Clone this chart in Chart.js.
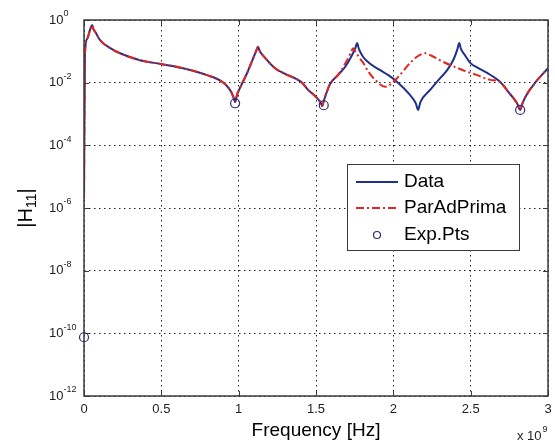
<!DOCTYPE html>
<html lang="en">
<head>
  <meta charset="UTF-8">
  <title>|H11| vs Frequency</title>
  <script src="https://cdn.jsdelivr.net/npm/chart.js"></script>
  <style>
    html, body { margin: 0; padding: 0; background: #fff; }
  </style>
</head>
<body>
  <canvas id="h11Chart" width="555" height="446"></canvas>

  <script>
    // frequency in units of 1e9 Hz (axis shows "x 10^9")
    const dataFreq = [0, 0.006, 0.02, 0.04, 0.052, 0.062, 0.075, 0.103, 0.17, 0.233,
                      0.362, 0.505, 0.64, 0.796, 0.893, 0.944, 0.965, 0.977, 0.99, 1.015,
                      1.054, 1.1, 1.115, 1.125, 1.135, 1.17, 1.235, 1.3, 1.365, 1.41,
                      1.449, 1.5, 1.53, 1.54, 1.55, 1.59, 1.643, 1.688, 1.73, 1.755,
                      1.766, 1.777, 1.805, 1.85, 1.915, 1.97, 2.025, 2.096, 2.145, 2.16,
                      2.175, 2.238, 2.3, 2.348, 2.39, 2.415, 2.426, 2.437, 2.46, 2.497,
                      2.55, 2.607, 2.691, 2.743, 2.8, 2.82, 2.835, 2.86, 2.917, 3.0];
    const dataMag = [2e-6, 0.079, 0.25, 0.5, 0.69, 0.5, 0.40, 0.23, 0.126, 0.087,
                     0.052, 0.039, 0.029, 0.0174, 0.0107, 0.0059, 0.0036, 0.0024, 0.0042, 0.0079,
                     0.020, 0.071, 0.11, 0.141, 0.105, 0.063, 0.029, 0.019, 0.0138, 0.0100,
                     0.0059, 0.0035, 0.0023, 0.0018, 0.0026, 0.0089, 0.0178, 0.0316, 0.071, 0.13,
                     0.186, 0.12, 0.066, 0.040, 0.025, 0.0170, 0.0105, 0.0047, 0.0022, 0.00135,
                     0.0024, 0.0059, 0.0135, 0.025, 0.056, 0.12, 0.186, 0.12, 0.079, 0.043,
                     0.029, 0.0204, 0.0105, 0.0051, 0.0022, 0.00135, 0.0022, 0.0040, 0.010, 0.029];

    const fitFreq = [0, 0.006, 0.02, 0.04, 0.052, 0.062, 0.075, 0.103, 0.17, 0.233,
                     0.362, 0.505, 0.64, 0.796, 0.893, 0.944, 0.965, 0.977, 0.99, 1.015,
                     1.054, 1.1, 1.115, 1.125, 1.135, 1.17, 1.235, 1.3, 1.365, 1.41,
                     1.449, 1.5, 1.53, 1.54, 1.55, 1.59, 1.643, 1.688, 1.725, 1.74,
                     1.755, 1.78, 1.805, 1.84, 1.882, 1.947, 2.025, 2.109, 2.16, 2.206,
                     2.25, 2.322, 2.451, 2.542, 2.626, 2.691, 2.743, 2.8, 2.82, 2.835,
                     2.86, 2.917, 3.0];
    const fitMag = [2e-6, 0.079, 0.25, 0.5, 0.69, 0.5, 0.40, 0.23, 0.126, 0.087,
                    0.052, 0.039, 0.029, 0.0174, 0.0107, 0.0059, 0.0036, 0.0024, 0.0042, 0.0079,
                    0.020, 0.071, 0.11, 0.141, 0.105, 0.063, 0.029, 0.019, 0.0138, 0.0100,
                    0.0059, 0.0035, 0.0023, 0.0018, 0.0026, 0.0089, 0.0178, 0.040, 0.09, 0.126,
                    0.10, 0.063, 0.043, 0.022, 0.0123, 0.0074, 0.0141, 0.043, 0.071, 0.087,
                    0.071, 0.046, 0.025, 0.0174, 0.0123, 0.0105, 0.0051, 0.0022, 0.00135, 0.0022,
                    0.0040, 0.010, 0.029];

    const expFreq = [0, 0.977, 1.55, 2.82];
    const expMag = [7.5e-11, 0.0022, 0.0019, 0.00135];

    const xTicks = [0, 0.5, 1, 1.5, 2, 2.5, 3];
    const xTickLabels = ['0', '0.5', '1', '1.5', '2', '2.5', '3'];
    const yTickExps = [0, -2, -4, -6, -8, -10, -12];

    const seriesNames = ['Data', 'ParAdPrima', 'Exp.Pts'];

    const toPoints = (xs, ys) => xs.map((x, i) => ({ x: x, y: ys[i] }));

    const fontFamily = '"Liberation Sans", Arial, Helvetica, sans-serif';

    // draws box, inner ticks, tick labels, titles and legend the MATLAB way
    const matlabLook = {
      id: 'matlabLook',
      afterDraw(chart) {
        const ctx = chart.ctx;
        const area = chart.chartArea;
        const xs = chart.scales.x;
        const ys = chart.scales.y;
        ctx.save();

        // axes box
        ctx.strokeStyle = '#3a3a3a';
        ctx.lineWidth = 1.5;
        ctx.setLineDash([]);
        ctx.strokeRect(area.left, area.top, area.right - area.left, area.bottom - area.top);

        // inward tick marks
        ctx.lineWidth = 1;
        ctx.beginPath();
        xTicks.forEach(v => {
          const px = Math.round(xs.getPixelForValue(v)) + 0.5;
          ctx.moveTo(px, area.bottom); ctx.lineTo(px, area.bottom - 5);
          ctx.moveTo(px, area.top); ctx.lineTo(px, area.top + 5);
        });
        yTickExps.forEach(e => {
          const py = Math.round(ys.getPixelForValue(Math.pow(10, e))) + 0.5;
          ctx.moveTo(area.left, py); ctx.lineTo(area.left + 5, py);
          ctx.moveTo(area.right, py); ctx.lineTo(area.right - 5, py);
        });
        ctx.stroke();

        // x tick labels
        ctx.fillStyle = '#222';
        ctx.font = '13px ' + fontFamily;
        ctx.textAlign = 'center';
        ctx.textBaseline = 'middle';
        xTicks.forEach((v, i) => {
          ctx.fillText(xTickLabels[i], xs.getPixelForValue(v), area.bottom + 13);
        });

        // y tick labels: 10 with superscript exponent
        ctx.textAlign = 'left';
        yTickExps.forEach(e => {
          const py = ys.getPixelForValue(Math.pow(10, e));
          ctx.font = '13px ' + fontFamily;
          ctx.textBaseline = 'middle';
          ctx.fillText('10', 49, py);
          const w = ctx.measureText('10').width;
          ctx.font = '9px ' + fontFamily;
          ctx.fillText(String(e), 49 + w, py - 6);
        });

        // x title and multiplier
        ctx.fillStyle = '#000';
        ctx.font = '19px ' + fontFamily;
        ctx.textAlign = 'center';
        ctx.textBaseline = 'middle';
        ctx.fillText('Frequency [Hz]', (area.left + area.right) / 2, 431);

        ctx.fillStyle = '#222';
        ctx.textAlign = 'left';
        ctx.textBaseline = 'alphabetic';
        ctx.font = '13px ' + fontFamily;
        ctx.fillText('x 10', 517, 440);
        const mw = ctx.measureText('x 10').width;
        ctx.font = '9px ' + fontFamily;
        ctx.fillText('9', 517 + mw + 1, 432);

        // y title |H11|
        ctx.save();
        ctx.translate(26, 208);
        ctx.rotate(-Math.PI / 2);
        ctx.fillStyle = '#000';
        ctx.textBaseline = 'middle';
        ctx.textAlign = 'left';
        ctx.font = '20px ' + fontFamily;
        const wA = ctx.measureText('|H').width;
        const wC = ctx.measureText('|').width;
        ctx.font = '14px ' + fontFamily;
        const wB = ctx.measureText('11').width;
        let cx = -(wA + wB + wC) / 2;
        ctx.font = '20px ' + fontFamily;
        ctx.fillText('|H', cx, 0);
        cx += wA;
        ctx.font = '14px ' + fontFamily;
        ctx.fillText('11', cx, 6);
        cx += wB;
        ctx.font = '20px ' + fontFamily;
        ctx.fillText('|', cx, 0);
        ctx.restore();

        // legend box
        const lx = 347, ly = 164, lw = 172, lh = 86;
        ctx.fillStyle = '#fff';
        ctx.fillRect(lx, ly, lw, lh);
        ctx.strokeStyle = '#3a3a3a';
        ctx.lineWidth = 1;
        ctx.strokeRect(lx + 0.5, ly + 0.5, lw, lh);

        const rows = [182, 208, 235];
        chart.data.datasets.forEach((ds, i) => {
          const ry = rows[i];
          if (ds.showLine !== false) {
            ctx.strokeStyle = ds.borderColor;
            ctx.lineWidth = ds.borderWidth;
            ctx.setLineDash(ds.borderDash || []);
            ctx.beginPath();
            ctx.moveTo(356, ry);
            ctx.lineTo(398, ry);
            ctx.stroke();
            ctx.setLineDash([]);
          } else {
            ctx.strokeStyle = ds.pointBorderColor;
            ctx.lineWidth = ds.pointBorderWidth;
            ctx.beginPath();
            ctx.arc(377, ry, 3.5, 0, Math.PI * 2);
            ctx.stroke();
          }
          ctx.fillStyle = '#000';
          ctx.font = '19px ' + fontFamily;
          ctx.textAlign = 'left';
          ctx.textBaseline = 'middle';
          ctx.fillText(ds.label, 404, ry);
        });

        ctx.restore();
      }
    };

    const ctx = document.getElementById('h11Chart').getContext('2d');
    const h11Chart = new Chart(ctx, {
      type: 'line',
      data: {
        datasets: [
          {
            label: seriesNames[0],
            data: toPoints(dataFreq, dataMag),
            borderColor: '#1f2f8c',
            borderWidth: 2,
            pointRadius: 0,
            cubicInterpolationMode: 'monotone',
            order: 2
          },
          {
            label: seriesNames[1],
            data: toPoints(fitFreq, fitMag),
            borderColor: '#e0261f',
            borderWidth: 2,
            borderDash: [8, 3, 2, 3],
            pointRadius: 0,
            cubicInterpolationMode: 'monotone',
            order: 1
          },
          {
            label: seriesNames[2],
            data: toPoints(expFreq, expMag),
            showLine: false,
            pointStyle: 'circle',
            pointRadius: 4.5,
            pointBorderWidth: 1.2,
            pointBorderColor: '#2a2a7a',
            pointBackgroundColor: 'rgba(0,0,0,0)',
            clip: false,
            order: 0
          }
        ]
      },
      options: {
        responsive: false,
        animation: false,
        layout: { padding: { left: 0, top: 20, right: 7, bottom: 0 } },
        scales: {
          x: {
            type: 'linear',
            min: 0,
            max: 3,
            afterBuildTicks: scale => { scale.ticks = xTicks.map(v => ({ value: v })); },
            afterFit: scale => { scale.height = 50; },
            ticks: { display: false },
            border: { display: false, dash: [1.5, 3.5] },
            grid: { color: '#222', lineWidth: 1, drawTicks: false }
          },
          y: {
            type: 'logarithmic',
            min: 1e-12,
            max: 1,
            afterBuildTicks: scale => { scale.ticks = yTickExps.map(e => ({ value: Math.pow(10, e) })); },
            afterFit: scale => { scale.width = 84; },
            ticks: { display: false },
            border: { display: false, dash: [1.5, 3.5] },
            grid: { color: '#222', lineWidth: 1, drawTicks: false }
          }
        },
        plugins: {
          legend: { display: false },
          tooltip: { enabled: false }
        }
      },
      plugins: [matlabLook]
    });
  </script>
</body>
</html>
